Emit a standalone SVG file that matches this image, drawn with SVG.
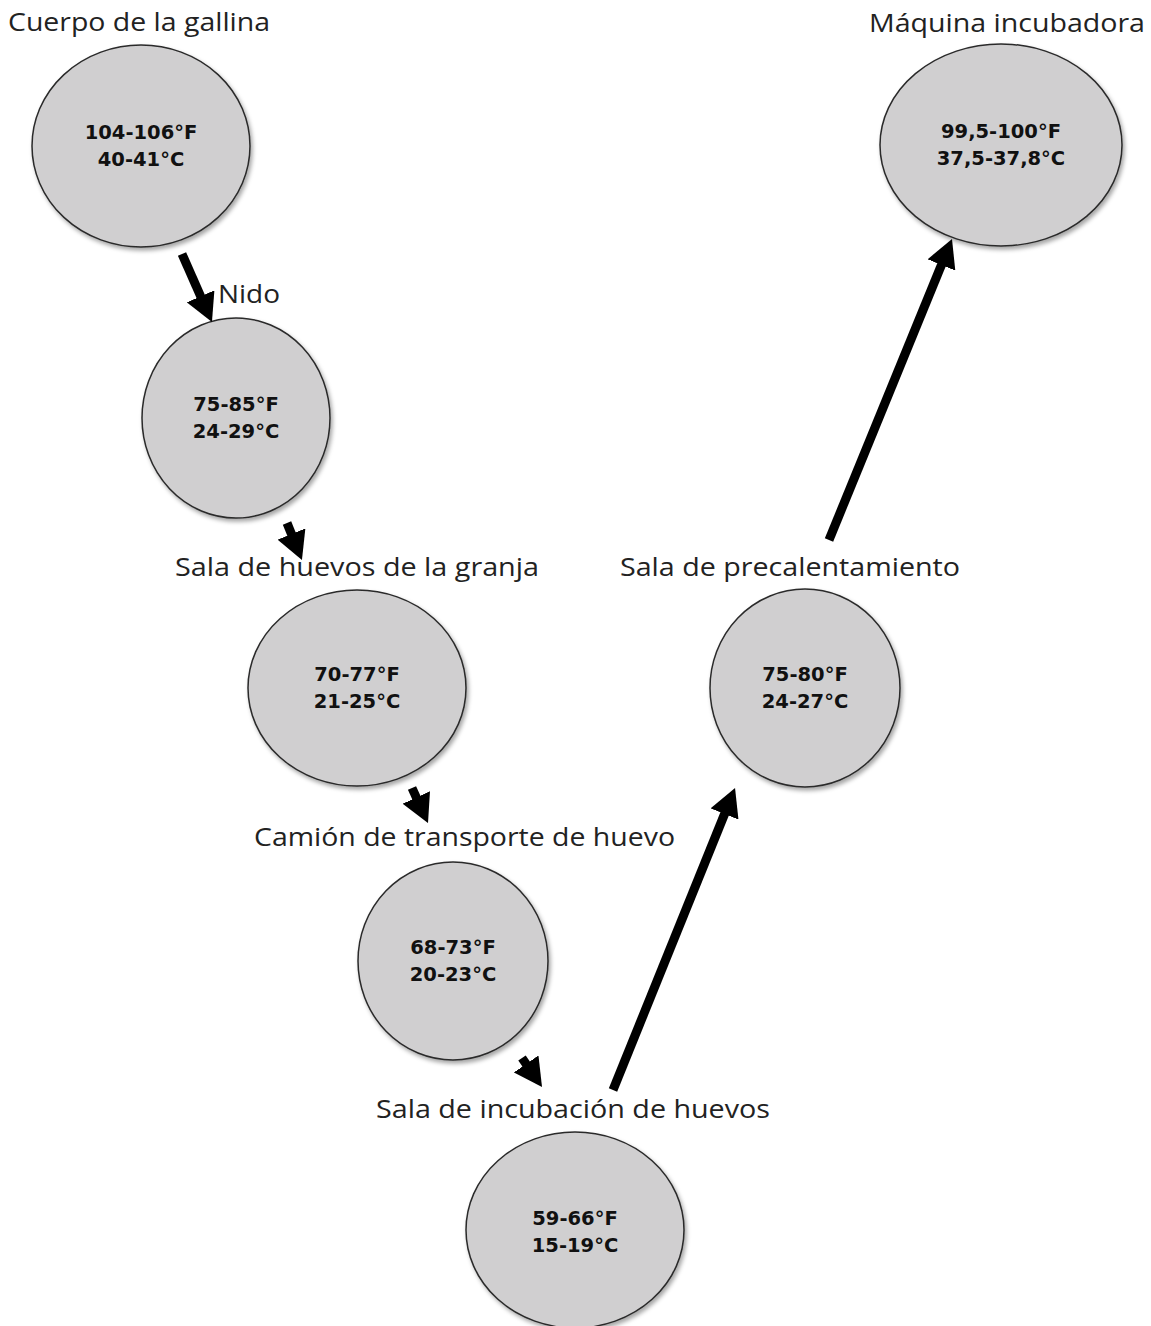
<svg xmlns="http://www.w3.org/2000/svg" width="1151" height="1326" viewBox="0 0 1151 1326">
<style>
.node ellipse{fill:#d0cfd0;stroke:#2a2a2a;stroke-width:1.5;filter:url(#sh)}
.t{font-family:"DejaVu Sans",Verdana,sans-serif;font-weight:bold;font-size:19.5px;fill:#111;text-anchor:middle}
.lbl{font-family:"Open Sans","Noto Sans",sans-serif;font-size:25.5px;fill:#222}
.conn line{stroke:#000;stroke-width:9;marker-end:url(#ah)}
</style>
<defs>
<filter id="sh" x="-10%" y="-10%" width="125%" height="125%">
<feDropShadow dx="2" dy="3" stdDeviation="2" flood-color="#000" flood-opacity="0.35"/>
</filter>
<marker id="ah" markerUnits="userSpaceOnUse" viewBox="0 0 28 30" markerWidth="28" markerHeight="30" refX="10" refY="15" orient="auto">
<path d="M0,0 L28,15 L0,30 z" fill="#000"/>
</marker>
</defs>
<rect width="1151" height="1326" fill="#fff"/>
<g id="n1" class="node"><text class="lbl" x="8" y="31" textLength="262" lengthAdjust="spacingAndGlyphs">Cuerpo de la gallina</text><ellipse cx="141" cy="146" rx="109" ry="101"/><text class="t" x="141" y="139">104-106°F</text><text class="t" x="141" y="166">40-41°C</text></g>
<g id="n2" class="node"><text class="lbl" x="218" y="303" textLength="62" lengthAdjust="spacingAndGlyphs">Nido</text><ellipse cx="236" cy="418" rx="94" ry="100"/><text class="t" x="236" y="411">75-85°F</text><text class="t" x="236" y="438">24-29°C</text></g>
<g id="n3" class="node"><text class="lbl" x="175" y="576" textLength="364" lengthAdjust="spacingAndGlyphs">Sala de huevos de la granja</text><ellipse cx="357" cy="688" rx="109" ry="98"/><text class="t" x="357" y="681">70-77°F</text><text class="t" x="357" y="708">21-25°C</text></g>
<g id="n4" class="node"><text class="lbl" x="254" y="846" textLength="421" lengthAdjust="spacingAndGlyphs">Camión de transporte de huevo</text><ellipse cx="453" cy="961" rx="95" ry="99"/><text class="t" x="453" y="954">68-73°F</text><text class="t" x="453" y="981">20-23°C</text></g>
<g id="n5" class="node"><text class="lbl" x="376" y="1118" textLength="394" lengthAdjust="spacingAndGlyphs">Sala de incubación de huevos</text><ellipse cx="575" cy="1230" rx="109" ry="98"/><text class="t" x="575" y="1225">59-66°F</text><text class="t" x="575" y="1252">15-19°C</text></g>
<g id="n6" class="node"><text class="lbl" x="620" y="576" textLength="340" lengthAdjust="spacingAndGlyphs">Sala de precalentamiento</text><ellipse cx="805" cy="688" rx="95" ry="99"/><text class="t" x="805" y="681">75-80°F</text><text class="t" x="805" y="708">24-27°C</text></g>
<g id="n7" class="node"><text class="lbl" x="869" y="32" textLength="276" lengthAdjust="spacingAndGlyphs">Máquina incubadora</text><ellipse cx="1001" cy="145" rx="121" ry="101"/><text class="t" x="1001" y="138">99,5-100°F</text><text class="t" x="1001" y="165">37,5-37,8°C</text></g>
<g id="connectors" class="conn">
<line x1="182" y1="254" x2="204.7" y2="305.5"/>
<line x1="287" y1="523" x2="295.2" y2="543.3"/>
<line x1="412" y1="788" x2="420.5" y2="806.6"/>
<line x1="522" y1="1058" x2="531.8" y2="1072.2"/>
<line x1="613" y1="1090" x2="728.3" y2="804.7"/>
<line x1="829" y1="540" x2="945.2" y2="255.7"/>
</g>
</svg>
